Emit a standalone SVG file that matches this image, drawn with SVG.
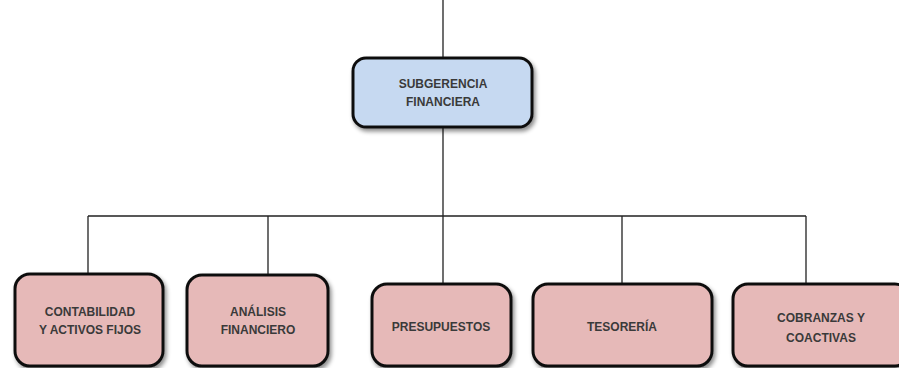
<svg xmlns="http://www.w3.org/2000/svg" width="899" height="368" viewBox="0 0 899 368">
<defs>
<filter id="sh" x="-10%" y="-10%" width="130%" height="140%">
<feDropShadow dx="2" dy="3" stdDeviation="2" flood-color="#000" flood-opacity="0.45"/>
</filter>
<style>
.box{stroke:#111;stroke-width:3;filter:url(#sh)}
.blue{fill:#c6d9f1}
.pink{fill:#e6b9b8}
.t{font-family:"Liberation Sans",Arial,sans-serif;font-weight:bold;font-size:12px;fill:#3a3a3a;text-anchor:middle}
.c{stroke:#222;stroke-width:1.3;fill:none}
</style>
</defs>
<rect width="899" height="368" fill="#fff"/>
<g id="connectors">
<path class="c" d="M443 0V58M443 127V216M88 216H806M88 216V274M268 216V275M443 216V284M622 216V284M806 216V284"/>
</g>
<g id="subgerencia">
<rect class="box blue" x="353" y="58" width="179" height="69" rx="13"/>
<text class="t" x="443" y="88">SUBGERENCIA</text>
<text class="t" x="443" y="106">FINANCIERA</text>
</g>
<g id="contabilidad">
<rect class="box pink" x="15" y="274" width="148" height="92" rx="15"/>
<text class="t" x="90" y="316">CONTABILIDAD</text>
<text class="t" x="90" y="334">Y ACTIVOS FIJOS</text>
</g>
<g id="analisis">
<rect class="box pink" x="187" y="275" width="141" height="91" rx="15"/>
<text class="t" x="258" y="316">ANÁLISIS</text>
<text class="t" x="258" y="334">FINANCIERO</text>
</g>
<g id="presupuestos">
<rect class="box pink" x="372" y="284" width="139" height="82" rx="15"/>
<text class="t" x="441" y="331">PRESUPUESTOS</text>
</g>
<g id="tesoreria">
<rect class="box pink" x="533" y="284" width="179" height="82" rx="15"/>
<text class="t" x="622" y="331">TESORERÍA</text>
</g>
<g id="cobranzas">
<rect class="box pink" x="733" y="284" width="177" height="82" rx="15"/>
<text class="t" x="821" y="322">COBRANZAS Y</text>
<text class="t" x="821" y="342">COACTIVAS</text>
</g>
</svg>
